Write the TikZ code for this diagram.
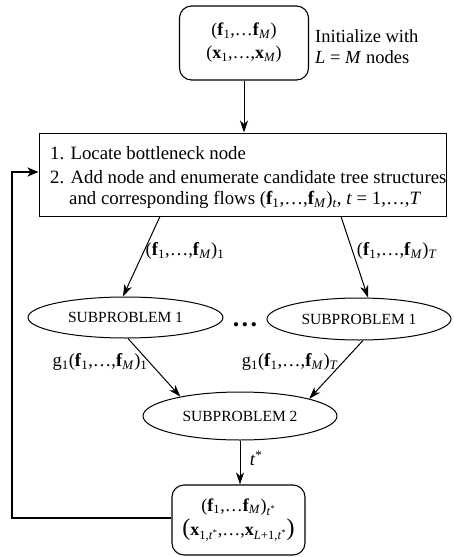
\documentclass[tikz,border=0pt]{standalone}
\usepackage{fontspec}
\setmainfont{Liberation Serif}
\usetikzlibrary{arrows.meta,shapes.geometric}
\newcommand{\bff}{\textbf{f}}
\newcommand{\bfx}{\textbf{x}}
\newcommand{\sbs}[1]{\textsubscript{#1}}
\newcommand{\bigpar}[1]{{\fontsize{24}{24}\selectfont #1}}
\tikzset{
  rbox/.style={draw, line width=1.1pt, rounded corners=12pt, align=center, inner sep=0pt, font=\fontsize{18}{23}\selectfont},
  sqbox/.style={draw, line width=1pt, inner sep=0pt},
  oval/.style={draw, ellipse, line width=1pt, inner sep=0pt, font=\fontsize{15.5}{18}\selectfont},
  lbl/.style={inner sep=0pt, font=\fontsize{18.5}{22}\selectfont},
  arr/.style={line width=1pt, -{Stealth[length=12pt,width=8pt,inset=3.5pt]}},
  fb/.style={line width=2.4pt, -{Stealth[length=11pt,width=9pt,inset=3pt]}}
}
\begin{document}
\begin{tikzpicture}[x=1pt,y=-1pt]
\useasboundingbox (0,0) rectangle (454,557);
% initial box
\node[rbox, minimum width=129pt, minimum height=74pt] (init) at (244,43)
  {(\bff\sbs{1},\ldots\bff\sbs{\textit{M}})\\(\bfx\sbs{1},\ldots,\bfx\sbs{\textit{M}})};
\node[lbl, anchor=west, align=left, font=\fontsize{18.5}{21}\selectfont] (initlbl) at (315,47)
  {Initialize with\\\textit{L} = \textit{M} nodes};
% main box
\node[sqbox, minimum width=407pt, minimum height=83pt] (main) at (242.5,174.5) {};
\node[lbl, anchor=west, align=left, font=\fontsize{18.8}{24.5}\selectfont] (maintext) at (50,177.5)
  {1. Locate bottleneck node\\
   2. Add node and enumerate candidate tree structures\\[-3.5pt]
   \hspace*{19pt}and corresponding flows (\bff\sbs{1},\ldots,\bff\sbs{\textit{M}})\sbs{\textit{t}}, \textit{t} = 1,\ldots,\textit{T}};
% subproblem 1 ellipses
\node[oval, minimum width=195pt, minimum height=41pt] (sub1a) at (125.5,317.5) {SUBPROBLEM 1};
\node[oval, minimum width=184pt, minimum height=42pt] (sub1b) at (359,319) {SUBPROBLEM 1};
\node[inner sep=0pt, font=\fontsize{26}{26}\selectfont\bfseries] (dots) at (245,325) {.\hspace{2.5pt}.\hspace{2.5pt}.};
% subproblem 2
\node[oval, minimum width=194pt, minimum height=48pt] (sub2) at (240,416) {SUBPROBLEM 2};
% final box
\node[rbox, minimum width=133pt, minimum height=70pt] (final) at (238.5,520)
  {(\bff\sbs{1},\ldots\bff\sbs{\textit{M}})\sbs{\textit{t}\textsuperscript{*}}\\[1pt]
   \bigpar{(}\bfx\sbs{1,\textit{t}\textsuperscript{*}},\ldots,\bfx\sbs{\textit{L}+1,\textit{t}\textsuperscript{*}}\bigpar{)}};
% labels
\node[lbl] (l1) at (185,251) {(\bff\sbs{1},\ldots,\bff\sbs{\textit{M}})\sbs{1}};
\node[lbl] (lT) at (397,251) {(\bff\sbs{1},\ldots,\bff\sbs{\textit{M}})\sbs{\textit{T}}};
\node[lbl] (g1) at (100,362) {g\sbs{1}(\bff\sbs{1},\ldots,\bff\sbs{\textit{M}})\sbs{1}};
\node[lbl] (gT) at (290,362) {g\sbs{1}(\bff\sbs{1},\ldots,\bff\sbs{\textit{M}})\sbs{\textit{T}}};
\node[lbl] (ts) at (256,458) {\textit{t}\textsuperscript{*}};
% connectors
\draw[arr] (init.south) -- (init.south |- main.north);
\draw[arr] ([xshift=-82.5pt]main.south) -- ([xshift=-2.5pt]sub1a.north);
\draw[arr] ([xshift=98.5pt]main.south) -- ([xshift=9pt]sub1b.north);
\draw[arr] ([xshift=2.5pt]sub1a.south) -- (sub2.162);
\draw[arr] ([xshift=4pt]sub1b.south) -- (sub2.14);
\draw[arr] (sub2.south) -- (sub2.south |- final.north);
\coordinate (fbx) at (12,0);
\draw[fb] ([yshift=2pt]final.west) -- ([yshift=2pt]final.west -| fbx) |- ([yshift=2.5pt]main.west);
\end{tikzpicture}
\end{document}
